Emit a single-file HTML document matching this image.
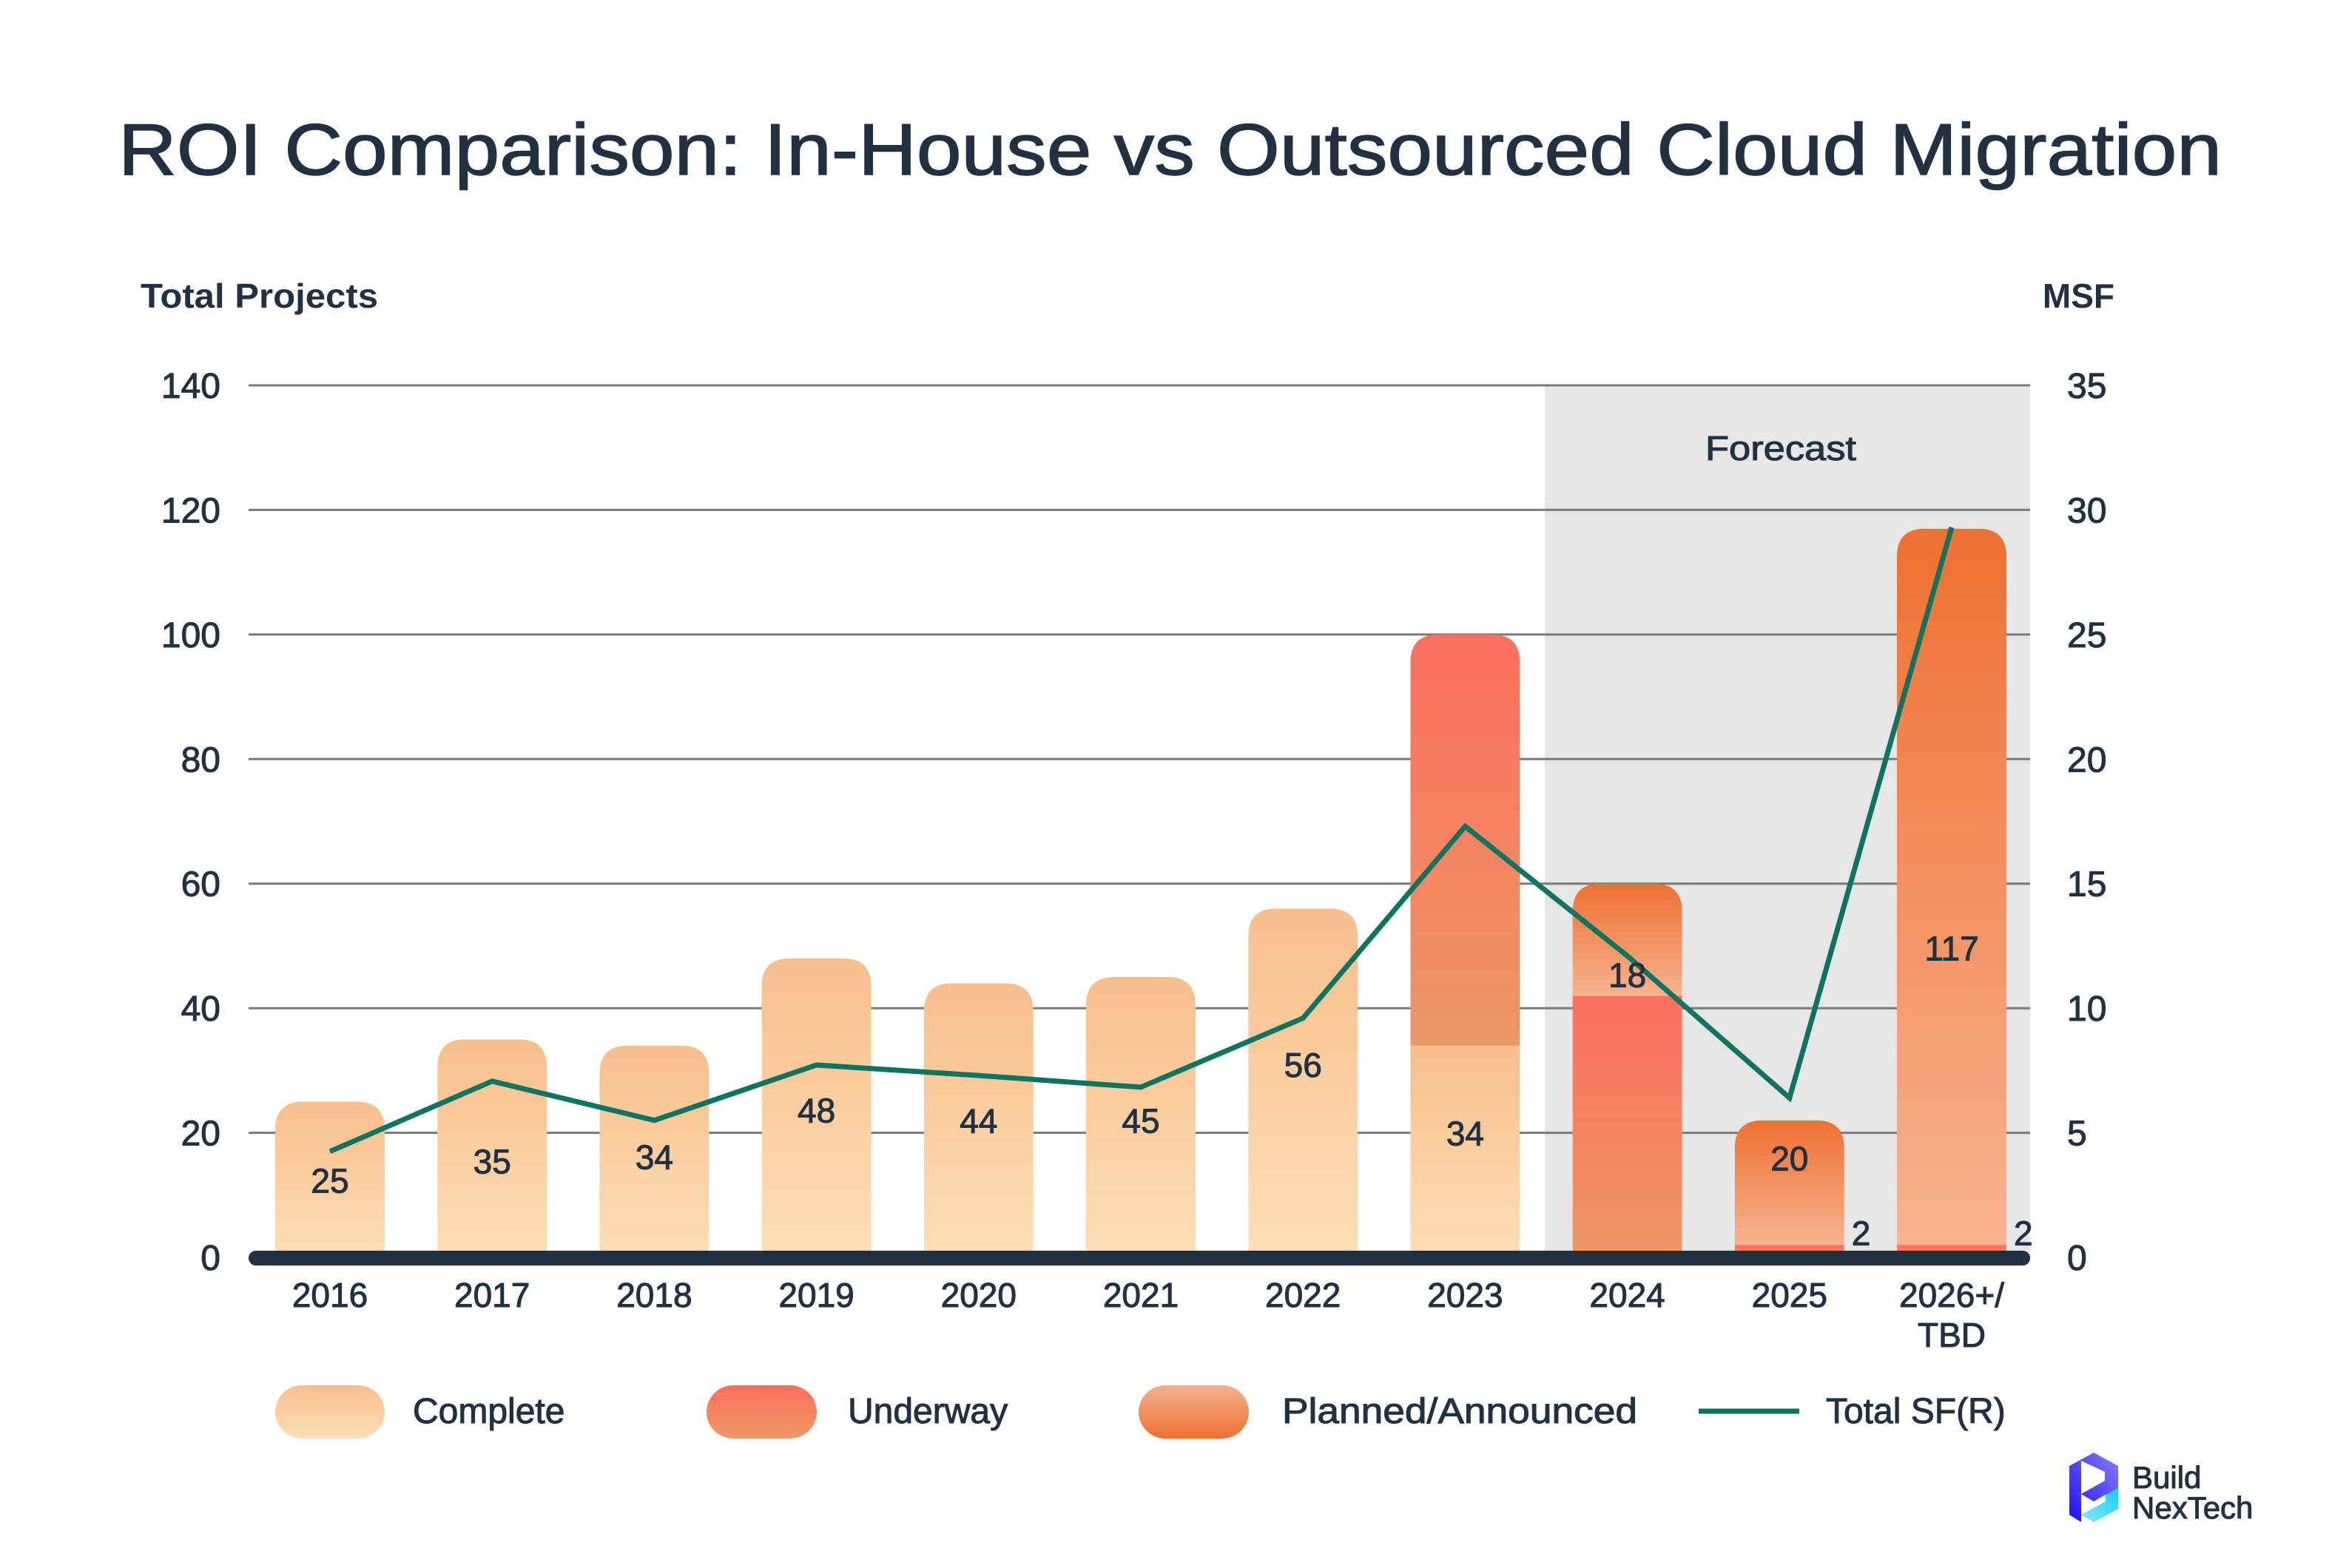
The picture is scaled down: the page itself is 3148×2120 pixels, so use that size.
<!DOCTYPE html>
<html><head><meta charset="utf-8"><style>
html,body{margin:0;padding:0;background:#fff;}
svg{display:block;font-family:"Liberation Sans",sans-serif;}
</style></head><body>
<svg id="chart" width="3148" height="2120" viewBox="0 0 3148 2120" xmlns="http://www.w3.org/2000/svg">
<defs>
<linearGradient id="gComplete" x1="0" y1="0" x2="0" y2="1"><stop offset="0" stop-color="#f7bf8c"/><stop offset="1" stop-color="#fddeb6"/></linearGradient>
<linearGradient id="gUnder" x1="0" y1="0" x2="0" y2="1"><stop offset="0" stop-color="#fd6f5c"/><stop offset="1" stop-color="#eb9866"/></linearGradient>
<linearGradient id="gPlan" x1="0" y1="0" x2="0" y2="1"><stop offset="0" stop-color="#ee7032"/><stop offset="1" stop-color="#f7b38f"/></linearGradient>
<linearGradient id="gPlanLeg" x1="0" y1="0" x2="0" y2="1"><stop offset="0" stop-color="#f5b08c"/><stop offset="1" stop-color="#ee7032"/></linearGradient>
<linearGradient id="logoA" x1="0" y1="1" x2="1" y2="0"><stop offset="0" stop-color="#1a10f0"/><stop offset="1" stop-color="#8a7cff"/></linearGradient>
<linearGradient id="logoB" x1="0" y1="1" x2="1" y2="0"><stop offset="0" stop-color="#8fe8f8"/><stop offset="1" stop-color="#10d0f0"/></linearGradient>
</defs>
<text x="160" y="236" font-size="98" fill="#223142" stroke="#223142" stroke-width="1.5" textLength="2843" lengthAdjust="spacingAndGlyphs">ROI Comparison: In-House vs Outsourced Cloud Migration</text>
<text x="190" y="416" font-size="46" font-weight="bold" fill="#223142" textLength="321" lengthAdjust="spacingAndGlyphs">Total Projects</text>
<text x="2858" y="416" font-size="46" font-weight="bold" fill="#223142" text-anchor="end">MSF</text>
<rect x="2088" y="521" width="656" height="1179" fill="#e6e6e6"/>
<text x="2305" y="622" font-size="46" fill="#223142" stroke="#223142" stroke-width="1" textLength="204" lengthAdjust="spacingAndGlyphs">Forecast</text>
<g id="grid"></g><g id="bars"></g><g id="line"></g><g id="labels"></g>
<g>
<rect x="372" y="1873" width="148" height="72" rx="36" fill="url(#gComplete)"/>
<text x="558" y="1924" font-size="48" fill="#223142" stroke="#223142" stroke-width="1">Complete</text>
<rect x="955" y="1873" width="149" height="72" rx="36" fill="url(#gUnder)"/>
<text x="1146" y="1924" font-size="48" fill="#223142" stroke="#223142" stroke-width="1">Underway</text>
<rect x="1539" y="1873" width="149" height="72" rx="36" fill="url(#gPlanLeg)"/>
<text x="1733" y="1924" font-size="48" fill="#223142" stroke="#223142" stroke-width="1" textLength="480" lengthAdjust="spacingAndGlyphs">Planned/Announced</text>
<line x1="2296" y1="1908" x2="2432" y2="1908" stroke="#0e7462" stroke-width="7"/>
<text x="2468" y="1924" font-size="48" fill="#223142" stroke="#223142" stroke-width="1">Total SF(R)</text>
</g>
<g>
<polygon points="2797,1982 2830,1964 2863,1982 2863,2012 2830,2030 2813,2020 2845,2002 2845,1990 2813,1975 2813,2058 2797,2048" fill="url(#logoA)"/>
<polygon points="2830,2030 2863,2012 2863,2040 2830,2058 2813,2048 2846,2030 2846,2020" fill="url(#logoB)"/>
<text x="2882" y="2012" font-size="42" fill="#223142" stroke="#223142" stroke-width="1">Build</text>
<text x="2882" y="2053" font-size="42" fill="#223142" stroke="#223142" stroke-width="1">NexTech</text>
</g>
</svg>
<script>
const categories = ["2016","2017","2018","2019","2020","2021","2022","2023","2024","2025","2026+/|TBD"];
const completeValues = [25,35,34,48,44,45,56,34,0,0,0];
const underwayValues = [0,0,0,0,0,0,0,66,42,2,2];
const plannedValues = [0,0,0,0,0,0,0,0,18,20,115];
const completeLabels = ["25","35","34","48","44","45","56","34","","",""];
const underwayLabels = ["","","","","","","","","","2","2"];
const plannedLabels = ["","","","","","","","","18","20","117"];
const completeLabelAt = [12.4,15.5,16.2,23.7,22,22,31,20,0,0,0];
const plannedLabelAt = [0,0,0,0,0,0,0,0,45.4,16,49.7];
const totalSF = [4.25,7.07,5.5,7.72,7.3,6.83,9.6,17.3,12.1,6.4,29.3];
const leftTicks = [0,20,40,60,80,100,120,140];
const rightTicks = [0,5,10,15,20,25,30,35];

const NS = "http://www.w3.org/2000/svg";
const X0 = 446, STEP = 219.2, BW = 148, Y0 = 1700, YTOP = 521;
const xAt = i => X0 + i * STEP;
const yL = v => Y0 - (v / 140) * (Y0 - YTOP);
const yR = v => Y0 - (v / 35) * (Y0 - YTOP);
function mk(tag, attrs, parent) { const e = document.createElementNS(NS, tag); for (const k in attrs) e.setAttribute(k, attrs[k]); parent.appendChild(e); return e; }

const grid = document.getElementById('grid');
leftTicks.forEach((t, i) => {
  const g = mk('line', {x1: 336, x2: 2744, y1: yL(t), y2: yL(t), stroke: '#7a7a7a', 'stroke-width': 3}, grid);
  
  
  const l = mk('text', {x: 298, y: yL(t) + 17, 'font-size': 48, fill: '#223142', stroke: '#223142', 'stroke-width': 1, 'text-anchor': 'end'}, grid);
  l.textContent = t;
  
  
});
rightTicks.forEach(t => {
  const l = mk('text', {x: 2794, y: yR(t) + 17, 'font-size': 48, fill: '#223142', stroke: '#223142', 'stroke-width': 1}, grid);
  l.textContent = t;
  
  
});

const bars = document.getElementById('bars');
const labels = document.getElementById('labels');
function lbl(txt, x, y, anchor) {
  if (!txt) return;
  const t = mk('text', {x: x, y: y + 17, 'font-size': 46, fill: '#223142', stroke: '#223142', 'stroke-width': 1, 'text-anchor': anchor || 'middle'}, labels);
  t.textContent = txt;
  
  
}
categories.forEach((c, i) => {
  const cx = xAt(i), x = cx - BW / 2;
  const total = completeValues[i] + underwayValues[i] + plannedValues[i];
  const top = yL(total), r = 38;
  const cp = mk('clipPath', {id: 'clip' + i}, bars);
  mk('path', {d: `M${x},${Y0} L${x},${top + r} Q${x},${top} ${x + r},${top} L${x + BW - r},${top} Q${x + BW},${top} ${x + BW},${top + r} L${x + BW},${Y0} Z`}, cp);
  const g = mk('g', {'clip-path': `url(#clip${i})`}, bars);
  
  
  let base = 0;
  [[completeValues[i], 'url(#gComplete)', 'complete'], [underwayValues[i], 'url(#gUnder)', 'underway'], [plannedValues[i], 'url(#gPlan)', 'planned']].forEach(s => {
    if (s[0] <= 0) return;
    const y1 = yL(base + s[0]), y2 = yL(base);
    const rc = mk('rect', {x: x, y: y1, width: BW, height: y2 - y1, fill: s[1]}, g);
    
    
    base += s[0];
  });
  lbl(completeLabels[i], cx, yL(completeLabelAt[i]));
  const ub = completeValues[i];
  if (underwayLabels[i]) lbl(underwayLabels[i], x + BW + 10, yL(ub + 4), 'start');
  lbl(plannedLabels[i], cx, yL(plannedLabelAt[i]));
  const parts = c.split('|');
  parts.forEach((p, k) => {
    const t = mk('text', {x: cx, y: 1767 + k * 54, 'font-size': 46, fill: '#223142', stroke: '#223142', 'stroke-width': 1, 'text-anchor': 'middle'}, labels);
    t.textContent = p;
    
    
  });
});
const axis = mk('line', {x1: 346, x2: 2734, y1: Y0 + 1, y2: Y0 + 1, stroke: '#223142', 'stroke-width': 20, 'stroke-linecap': 'round'}, bars);



const lineG = document.getElementById('line');
const pts = totalSF.map((v, i) => xAt(i) + ',' + yR(v)).join(' ');
const pl = mk('polyline', {points: pts, fill: 'none', stroke: '#0e7462', 'stroke-width': 7, 'stroke-linejoin': 'miter'}, lineG);


</script>
</body></html>
